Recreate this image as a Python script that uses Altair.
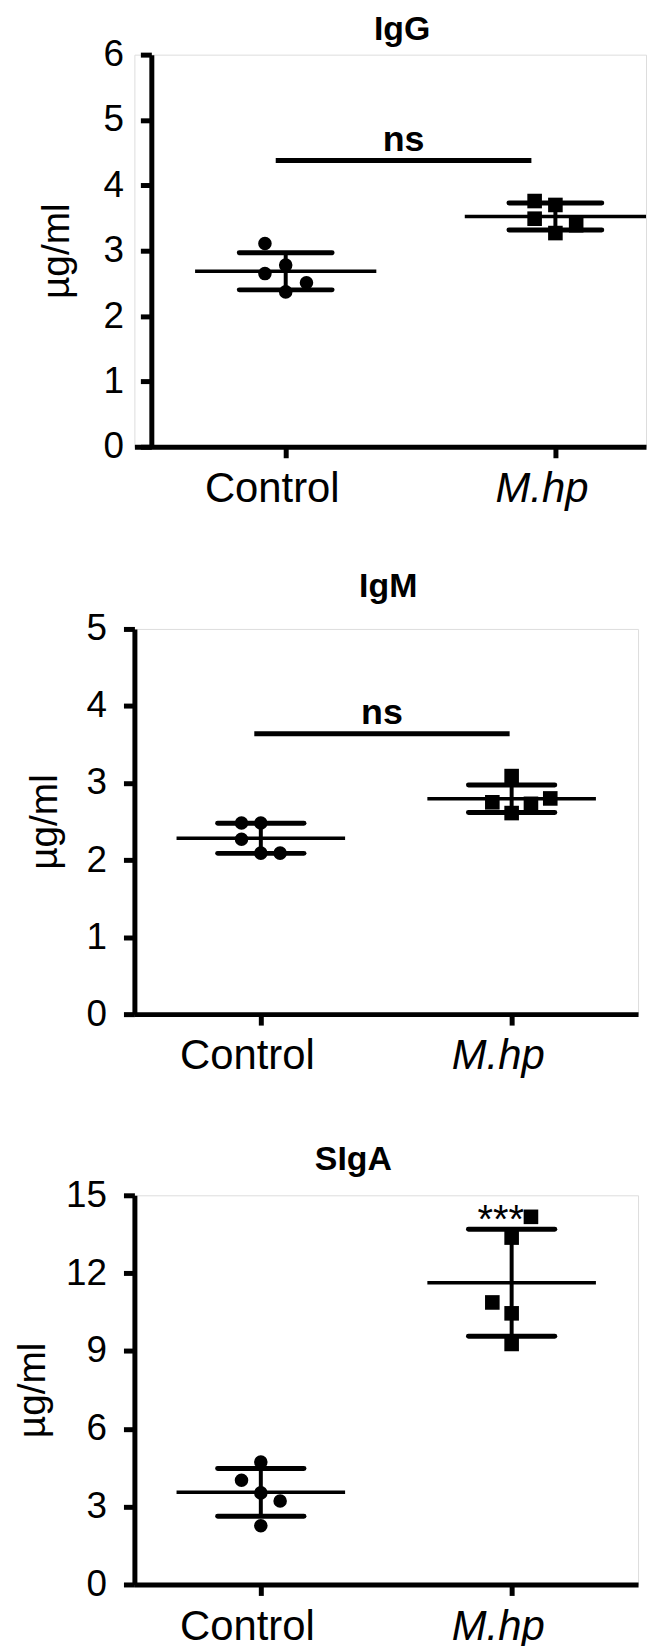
import altair as alt
import pandas as pd

FONT = "Liberation Sans"
GROUPS = ["Control", "M.hp"]

# ---- data ----
# IgG (µg/ml)
igg_control = [3.11, 2.78, 2.65, 2.51, 2.37]
igg_control_lane = [-1, 0, -1, 1, 0]
igg_mhp = [3.76, 3.70, 3.49, 3.27, 3.39]
igg_mhp_lane = [-1, 0, -1, 0, 1]

# IgM (µg/ml)
igm_control = [2.48, 2.48, 2.27, 2.09, 2.09]
igm_control_lane = [-1, 0, -1, 0, 1]
igm_mhp = [3.09, 2.75, 2.61, 2.73, 2.80]
igm_mhp_lane = [0, -1, 0, 1, 2]

# SIgA (µg/ml)
siga_control = [4.72, 4.02, 3.53, 3.22, 2.26]
siga_control_lane = [0, -1, 0, 1, 0]
siga_mhp = [14.17, 13.37, 10.87, 10.45, 9.27]
siga_mhp_lane = [1, 0, -1, 0, 0]

panel_titles = ["IgG", "IgM", "SIgA"]
y_max = [6, 5, 15]
y_ticks = [[0, 1, 2, 3, 4, 5, 6], [0, 1, 2, 3, 4, 5], [0, 3, 6, 9, 12, 15]]

# significance annotations
sig_text = ["ns", "ns", "***"]
sig_bar_from = [0.963, 0.974, None]
sig_bar_to = [1.911, 1.992, None]
sig_y = [4.38, 3.64, 13.7]
sig_text_x = [1.437, 1.483, 2.0]

# ---- layout / style (not data) ----
x_domains = [[0.439, 2.336], [0.496, 2.504], [0.496, 2.504]]
widths = [514, 506, 506]
heights = [394, 387, 391]
y_axis_offsets = [-17, 0, 0]
y_title_pad = [27, 22, 13]
title_dx = [12, 2, -33]
title_offset = [-11, 6, -1]
JIT = 0.077
MEAN_HW = 0.336
CAP_HW = 0.172


def make_df(control, cl, mhp, ml):
    rows = []
    for v, l in zip(control, cl):
        rows.append({"group": GROUPS[0], "g": 1, "value": v, "lane": l})
    for v, l in zip(mhp, ml):
        rows.append({"group": GROUPS[1], "g": 2, "value": v, "lane": l})
    return pd.DataFrame(rows)


def panel(i, df):
    xs = alt.Scale(domain=x_domains[i], nice=False, zero=False)
    xa = alt.Axis(
        values=[1, 2],
        labelExpr="datum.value == 1 ? 'Control' : 'M.hp'",
        labelFontStyle={"condition": {"test": "datum.value == 2", "value": "italic"}, "value": "normal"},
        title=None, grid=False, domainWidth=5, domainColor="black",
        tickWidth=5, tickColor="black", tickSize=11,
        labelFontSize=42, labelFont=FONT, labelColor="black",
        labelPadding=11, labelOffset=-14, labelFlush=False,
    )
    ys = alt.Scale(domain=[0, y_max[i]], nice=False, zero=True)
    ya = alt.Axis(
        values=y_ticks[i], title="µg/ml", grid=False,
        domainWidth=5, domainColor="black", tickWidth=5, tickColor="black", tickSize=11,
        labelFontSize=37, labelFont=FONT, labelColor="black", labelPadding=17,
        titleFontSize=39, titleFont=FONT, titleFontWeight="normal", titleColor="black",
        titlePadding=y_title_pad[i], offset=y_axis_offsets[i], labelFlush=False,
    )

    def X(f):
        return alt.X(f, type="quantitative", scale=xs, axis=xa)

    def Y(f):
        return alt.Y(f, type="quantitative", scale=ys, axis=ya)

    base = alt.Chart(df)
    pts = base.mark_point(filled=True, opacity=1, color="black").transform_calculate(
        xj=f"datum.g + datum.lane * {JIT}"
    ).encode(
        x=X("xj"), y=Y("value"),
        shape=alt.Shape("group:N", scale=alt.Scale(domain=GROUPS, range=["circle", "square"]), legend=None),
        size=alt.Size("group:N", scale=alt.Scale(domain=GROUPS, range=[185, 215]), legend=None),
    )
    stats = base.transform_aggregate(
        m="mean(value)", sd="stdev(value)", groupby=["g"]
    ).transform_calculate(
        lo="datum.m - datum.sd", hi="datum.m + datum.sd",
        mx1=f"datum.g - {MEAN_HW}", mx2=f"datum.g + {MEAN_HW}",
        cx1=f"datum.g - {CAP_HW}", cx2=f"datum.g + {CAP_HW}",
    )
    mean_rule = stats.mark_rule(strokeWidth=3.5, color="black").encode(x=X("mx1"), x2="mx2", y=Y("m"))
    cap_hi = stats.mark_rule(strokeWidth=5, color="black", strokeCap="round").encode(x=X("cx1"), x2="cx2", y=Y("hi"))
    cap_lo = stats.mark_rule(strokeWidth=5, color="black", strokeCap="round").encode(x=X("cx1"), x2="cx2", y=Y("lo"))
    vbar = stats.mark_rule(strokeWidth=4, color="black").encode(x=X("g"), y=Y("lo"), y2="hi")

    layers = [mean_rule, cap_hi, cap_lo, vbar, pts]

    ann = pd.DataFrame([{
        "tx": sig_text_x[i], "ty": sig_y[i], "label": sig_text[i],
        "bx1": sig_bar_from[i], "bx2": sig_bar_to[i],
    }])
    if sig_bar_from[i] is not None:
        bar = alt.Chart(ann).mark_rule(strokeWidth=5, color="black").encode(
            x=X("bx1"), x2="bx2", y=Y("ty"))
        txt = alt.Chart(ann).mark_text(
            font=FONT, fontSize=36, fontWeight="bold", baseline="alphabetic", dy=-10, color="black"
        ).encode(x=X("tx"), y=Y("ty"), text="label:N")
        layers += [bar, txt]
    else:
        txt = alt.Chart(ann).mark_text(
            font=FONT, fontSize=40, fontWeight="normal", baseline="alphabetic", dx=-11, dy=4, color="black"
        ).encode(x=X("tx"), y=Y("ty"), text="label:N")
        layers += [txt]

    return alt.layer(*layers).properties(
        width=widths[i], height=heights[i],
        title=alt.TitleParams(
            panel_titles[i], fontSize=34, fontWeight="bold", font=FONT, color="black",
            anchor="middle", frame="group", dx=title_dx[i], offset=title_offset[i],
        ),
    )


dfs = [
    make_df(igg_control, igg_control_lane, igg_mhp, igg_mhp_lane),
    make_df(igm_control, igm_control_lane, igm_mhp, igm_mhp_lane),
    make_df(siga_control, siga_control_lane, siga_mhp, siga_mhp_lane),
]
p1, p2, p3 = [panel(i, d) for i, d in enumerate(dfs)]

chart = alt.vconcat(alt.vconcat(p1, p2, spacing=59), p3, spacing=65).properties(
    padding={"left": 5, "top": 0, "right": 0, "bottom": 0}
).configure_view(stroke=None).configure(font=FONT)

chart.save("out.html", embed_options={"renderer": "svg", "actions": False})
